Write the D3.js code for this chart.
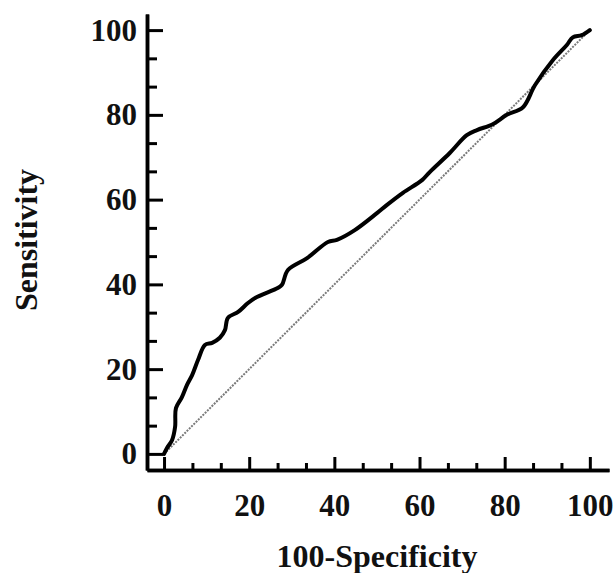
<!DOCTYPE html>
<html>
<head>
<meta charset="utf-8">
<script src="https://cdn.jsdelivr.net/npm/d3@7"></script>
<style>
  html, body { margin: 0; padding: 0; background: #fff; }
  svg { display: block; }
  text { font-family: "Liberation Serif", "Times New Roman", serif; font-weight: bold; fill: #111; }
</style>
</head>
<body>
<svg id="chart" width="616" height="573"></svg>
<script>
// ROC curve points: 100-Specificity (x) and Sensitivity (y)
const rocX = [0, 0.7, 1.9, 2.6, 2.8, 4.2, 5.4, 6.6, 8.0, 9.6, 11.3, 13.1, 14.3, 15.0, 17.4, 19.7, 21.4, 26.8, 27.7, 29.1, 33.6, 38.5, 40.6, 44.8, 50.0, 52.3, 56.1, 60.6, 62.4, 67.1, 71.1, 73.5, 77.2, 80.5, 84.3, 87.1, 91.3, 94.6, 96.0, 98.1, 100];
const rocY = [0, 1.4, 3.3, 6.4, 10.8, 13.4, 16.3, 18.6, 22.2, 25.7, 26.2, 27.4, 29.2, 32.1, 33.5, 35.6, 36.8, 39.2, 39.9, 43.4, 46.2, 50.0, 50.5, 52.8, 56.8, 58.7, 61.6, 64.6, 66.5, 71.0, 75.2, 76.4, 77.8, 80.0, 81.8, 87.0, 92.9, 96.5, 98.3, 98.8, 100];
const refX = [0, 100];
const refY = [0, 100];
const majorTicks = [0, 20, 40, 60, 80, 100];
const minorTicks = [6.667, 13.333, 26.667, 33.333, 46.667, 53.333, 66.667, 73.333, 86.667, 93.333];
const xTitle = "100-Specificity";
const yTitle = "Sensitivity";

const svg = d3.select("#chart");
const x = d3.scaleLinear().domain([-4, 104.5]).range([147, 609]);
const y = d3.scaleLinear().domain([-3.8, 103.8]).range([470, 14]);

// diagonal reference
svg.append("path")
  .datum(refX.map((v, i) => [v, refY[i]]))
  .attr("d", d3.line().x(d => x(d[0])).y(d => y(d[1])))
  .attr("fill", "none")
  .attr("stroke", "#7a7a7a")
  .attr("stroke-width", 2)
  .attr("stroke-dasharray", "2,1.2");

// ROC curve
svg.append("path")
  .datum(rocX.map((v, i) => [v, rocY[i]]))
  .attr("d", d3.line().x(d => x(d[0])).y(d => y(d[1])).curve(d3.curveCatmullRom.alpha(0.5)))
  .attr("fill", "none")
  .attr("stroke", "#000")
  .attr("stroke-width", 4)
  .attr("stroke-linejoin", "round")
  .attr("stroke-linecap", "round");

// axes
const xAxis = svg.append("g").attr("transform", `translate(0,${y.range()[0]})`)
  .call(d3.axisBottom(x).tickValues(majorTicks).tickSize(-13).tickSizeOuter(0).tickPadding(24));
const xMinor = svg.append("g").attr("transform", `translate(0,${y.range()[0]})`)
  .call(d3.axisBottom(x).tickValues(minorTicks).tickSize(-7).tickSizeOuter(0).tickFormat(""));
const yAxis = svg.append("g").attr("transform", `translate(${x.range()[0]},0)`)
  .call(d3.axisLeft(y).tickValues(majorTicks).tickSize(-16).tickSizeOuter(0).tickPadding(10));
const yMinor = svg.append("g").attr("transform", `translate(${x.range()[0]},0)`)
  .call(d3.axisLeft(y).tickValues(minorTicks).tickSize(-10).tickSizeOuter(0).tickFormat(""));

[xAxis, xMinor, yAxis, yMinor].forEach(g => {
  g.select(".domain").attr("stroke", "#000").attr("stroke-width", 3.5);
  g.selectAll(".tick line").attr("stroke", "#000").attr("stroke-width", 3);
  g.selectAll(".tick text")
    .style("font-family", "'Liberation Serif', 'Times New Roman', serif")
    .style("font-weight", "bold")
    .style("font-size", "31px")
    .attr("fill", "#111");
});
xAxis.selectAll(".tick text").attr("dy", "0.71em");

// titles
svg.append("text")
  .attr("x", 377).attr("y", 567)
  .attr("text-anchor", "middle")
  .style("font-size", "32px")
  .text(xTitle);
svg.append("text")
  .attr("transform", "translate(37,240) rotate(-90)")
  .attr("text-anchor", "middle")
  .style("font-size", "32px")
  .text(yTitle);
</script>
</body>
</html>
